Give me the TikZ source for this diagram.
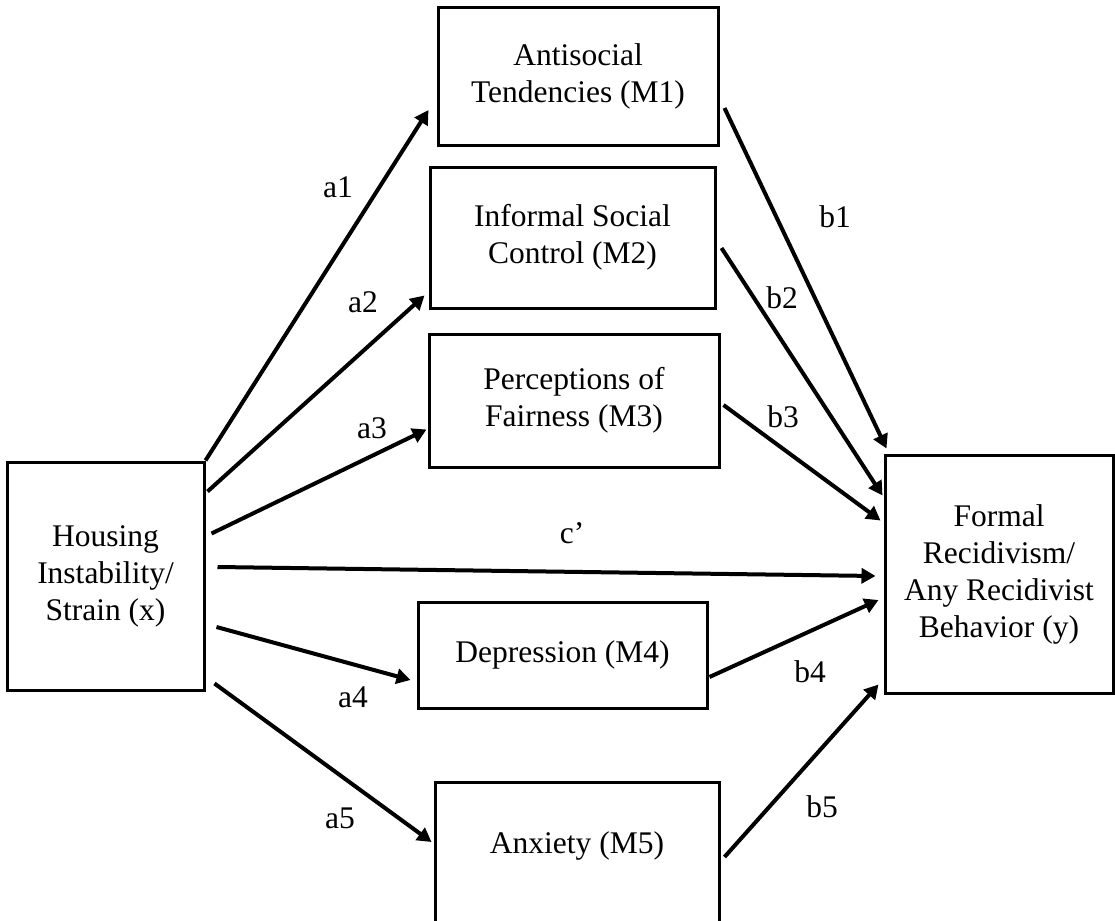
\documentclass[tikz,border=0pt]{standalone}
\usepackage{fontspec}
\setmainfont{Liberation Serif}
\usepackage{tikz}
\usetikzlibrary{positioning, arrows.meta}

\begin{document}
\begin{tikzpicture}[x=0.5pt, y=-0.5pt, line cap=butt, line join=miter,
        box/.style={draw, line width=1.5pt, align=center, inner sep=0pt,
                    font=\fontsize{15.75}{18.5}\selectfont},
        arr/.style={-{Triangle[length=7pt, width=7.5pt]}, line width=2pt},
        lbl/.style={inner sep=0pt, font=\fontsize{15.75}{18.5}\selectfont}]
        % frame
        \clip (0,0) rectangle (1115,921);

        % predictor and outcome
        \node[box, minimum width=98.5pt, minimum height=114pt] (X) at (105.5,576)
            {Housing\\ Instability/\\ Strain (x)};
        \node[box, minimum width=114pt, minimum height=119pt] (Y) at (999,574)
            {Formal\\ Recidivism/\\ Any Recidivist\\ Behavior (y)};

        % mediators
        \node[box, minimum width=140pt, minimum height=69pt] (M1) at (578,76)
            {Antisocial\\ Tendencies (M1)};
        \node[box, minimum width=142.5pt, minimum height=70.5pt] (M2) at (572.5,237.5)
            {Informal Social\\ Control (M2)};
        \node[box, minimum width=145pt, minimum height=66.5pt] (M3) at (574,400.5)
            {Perceptions of\\ Fairness (M3)};
        \node[box, minimum width=144.5pt, minimum height=53pt] (M4) at (562.5,655)
            {Depression (M4)};
        \node[box, anchor=north, minimum width=142pt, text height=35.5pt, text depth=54pt]
            (M5) at (577,781) {Anxiety (M5)};

        % a paths
        \draw[arr] (X.north east) -- ([shift={(-8,34)}]M1.west);
        \draw[arr] ([shift={(2,31)}]X.north east) -- ([shift={(-4,-14)}]M2.south west);
        \draw[arr] ([shift={(6,73)}]X.north east) -- ([shift={(-1,-39)}]M3.south west);
        \draw[arr] ([shift={(11,51)}]X.east) -- ([shift={(-6,25)}]M4.west);
        \draw[arr] ([shift={(9,-8)}]X.south east) -- ([shift={(-2,61)}]M5.north west);

        % direct path
        \draw[arr] ([shift={(12,-9)}]X.east) -- ([shift={(-8,2)}]Y.west);

        % b paths
        \draw[arr] ([shift={(5,32)}]M1.east) -- ([shift={(3,-5)}]Y.north west);
        \draw[arr] ([shift={(5,10.5)}]M2.east) -- ([shift={(-1,42)}]Y.north west);
        \draw[arr] ([shift={(3,4.5)}]M3.east) -- ([shift={(-3,67)}]Y.north west);
        \draw[arr] ([shift={(1,22)}]M4.east) -- ([shift={(-5,26)}]Y.west);
        \draw[arr] ([shift={(4,76)}]M5.north east) -- ([shift={(-5,-10)}]Y.south west);

        % path labels
        \node[lbl] (la1) at (338,187) {a1};
        \node[lbl] (la2) at (363,302) {a2};
        \node[lbl] (la3) at (372,428) {a3};
        \node[lbl] (la4) at (353,697) {a4};
        \node[lbl] (la5) at (340,818) {a5};
        \node[lbl] (lc)  at (572,533) {c’};
        \node[lbl] (lb1) at (835,217) {b1};
        \node[lbl] (lb2) at (782,298) {b2};
        \node[lbl] (lb3) at (783,417) {b3};
        \node[lbl] (lb4) at (810,672) {b4};
        \node[lbl] (lb5) at (822,807) {b5};
    \end{tikzpicture}
\end{document}
